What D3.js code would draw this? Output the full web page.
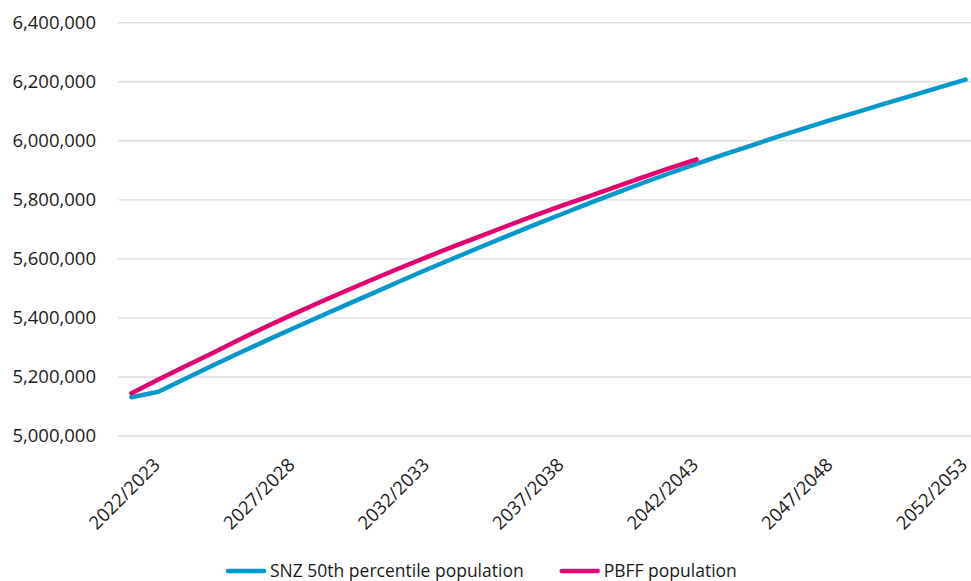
<!DOCTYPE html>
<html>
<head>
<meta charset="utf-8">
<script src="https://cdn.jsdelivr.net/npm/d3@7/dist/d3.min.js"></script>
<style>
  html, body { margin: 0; padding: 0; background: #fff; }
  svg { display: block; font-family: "Open Sans", "Noto Sans", sans-serif; }
</style>
</head>
<body>
<svg id="chart" width="971" height="581"></svg>
<script>
// Financial years on the category axis
const years = d3.range(2021, 2053).map(y => `${y}/${y + 1}`);
// Labelled years (every fifth year from 2022/2023)
const labelledYears = ["2022/2023", "2027/2028", "2032/2033", "2037/2038", "2042/2043", "2047/2048", "2052/2053"];
// Stats NZ 50th percentile projection
const snzPopulation = [
  5131000, 5150000, 5194000, 5238000, 5281000, 5323000, 5364000, 5405000,
  5445000, 5485000, 5525000, 5565000, 5603000, 5641000, 5679000, 5716000,
  5752000, 5788000, 5823000, 5857000, 5890000, 5922000, 5953000, 5983000,
  6013000, 6042000, 6071000, 6098000, 6126000, 6153000, 6180000, 6207000
];
// PBFF projection (to 2042/2043)
const pbffPopulation = [
  5145000, 5191000, 5236000, 5280000, 5326000, 5370000, 5412000, 5453000,
  5493000, 5532000, 5570000, 5607000, 5643000, 5678000, 5713000, 5747000,
  5780000, 5812000, 5844000, 5876000, 5907000, 5937000
];
const yTicks = [5000000, 5200000, 5400000, 5600000, 5800000, 6000000, 6200000, 6400000];
const seriesNames = ["SNZ 50th percentile population", "PBFF population"];
const seriesColors = ["#0099cc", "#e6006f"];

const svg = d3.select("#chart");

const x = d3.scalePoint().domain(years).range([118, 979]).padding(0.5);
const y = d3.scaleLinear().domain([5000000, 6400000]).range([436, 22.7]);

// Horizontal gridlines
svg.append("g")
  .selectAll("line")
  .data(yTicks)
  .join("line")
  .attr("x1", 118).attr("x2", 979)
  .attr("y1", d => y(d)).attr("y2", d => y(d))
  .attr("stroke", "#dcdde2")
  .attr("stroke-width", 1.4);

// Value axis labels
const yAxis = d3.axisLeft(y).tickValues(yTicks).tickFormat(d3.format(",")).tickSize(0).tickPadding(0);
svg.append("g")
  .attr("transform", "translate(96,0)")
  .call(yAxis)
  .call(g => g.select(".domain").remove())
  .call(g => g.selectAll("text")
    .attr("font-family", "'Open Sans', 'Noto Sans', sans-serif")
    .attr("font-size", 18.5)
    .attr("fill", "#1a1a1a"));

// Category axis labels, rotated
const xAxis = d3.axisBottom(x).tickValues(labelledYears).tickSize(0).tickPadding(0);
svg.append("g")
  .call(xAxis)
  .call(g => g.select(".domain").remove())
  .call(g => g.selectAll(".tick").attr("transform", d => `translate(${x(d) + 3},466)`))
  .call(g => g.selectAll("text")
    .attr("font-family", "'Open Sans', 'Noto Sans', sans-serif")
    .attr("font-size", 18.5)
    .attr("fill", "#1a1a1a")
    .attr("text-anchor", "end")
    .attr("x", 0).attr("y", 0).attr("dy", 0)
    .attr("transform", "rotate(-45)"));

// Series lines
const line = d3.line()
  .x((d, i) => x(years[i]))
  .y(d => y(d));

[snzPopulation, pbffPopulation].forEach((values, k) => {
  svg.append("path")
    .datum(values)
    .attr("d", line)
    .attr("fill", "none")
    .attr("stroke", seriesColors[k])
    .attr("stroke-width", 4.5)
    .attr("stroke-linecap", "round")
    .attr("stroke-linejoin", "round");
});

// Legend: entries laid out left to right with a fixed gap
const legend = svg.append("g");
let cursor = 228;
seriesNames.forEach((name, k) => {
  legend.append("line")
    .attr("x1", cursor).attr("x2", cursor + 36)
    .attr("y1", 571).attr("y2", 571)
    .attr("stroke", seriesColors[k])
    .attr("stroke-width", 4.5)
    .attr("stroke-linecap", "round");
  const label = legend.append("text")
    .attr("x", cursor + 42).attr("y", 577)
    .attr("font-size", 17.5)
    .attr("fill", "#1a1a1a")
    .text(name);
  cursor += 42 + label.node().getComputedTextLength() + 38;
});
</script>
</body>
</html>
